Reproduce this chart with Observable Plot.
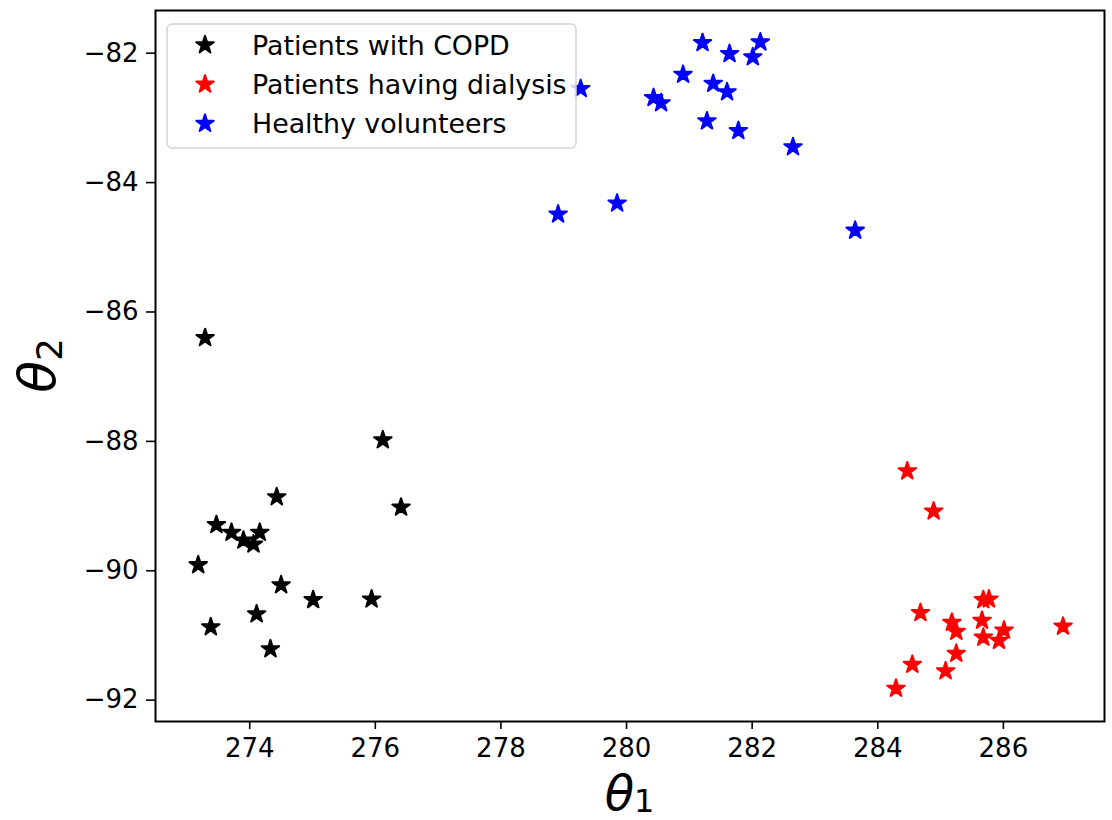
<!DOCTYPE html>
<html><head><meta charset="utf-8">
<script src="https://cdn.jsdelivr.net/npm/d3@7"></script>
<script src="https://cdn.jsdelivr.net/npm/@observablehq/plot@0.6"></script>
<style>body{margin:0;background:#fff} #chart{width:1112px;height:820px}</style>
</head><body><div id="chart"></div>
<script>
const groups = ["Patients with COPD", "Patients having dialysis", "Healthy volunteers"];
const colors = ["#000000", "#ff0000", "#0000ff"];

const copdTheta1 = [273.29, 276.12, 274.43, 276.41, 273.47, 273.71, 274.16, 273.90, 274.06, 273.18, 274.50, 275.01, 275.94, 274.11, 273.38, 274.33];
const copdTheta2 = [-86.40, -87.98, -88.86, -89.02, -89.29, -89.41, -89.41, -89.53, -89.59, -89.91, -90.22, -90.45, -90.44, -90.67, -90.87, -91.21];

const dialysisTheta1 = [284.47, 284.89, 284.68, 285.68, 285.77, 285.18, 285.25, 285.66, 285.68, 286.01, 285.93, 286.95, 285.25, 284.55, 285.08, 284.29];
const dialysisTheta2 = [-88.46, -89.08, -90.65, -90.45, -90.44, -90.80, -90.94, -90.77, -91.03, -90.92, -91.08, -90.86, -91.28, -91.45, -91.55, -91.82];

const healthyTheta1 = [279.27, 281.21, 281.64, 282.13, 282.01, 280.90, 281.38, 281.60, 280.43, 280.55, 281.28, 281.78, 282.65, 278.91, 279.85, 283.64];
const healthyTheta2 = [-82.55, -81.84, -82.01, -81.83, -82.06, -82.33, -82.47, -82.60, -82.69, -82.77, -83.05, -83.20, -83.45, -84.49, -84.32, -84.74];

const xTicks = [274, 276, 278, 280, 282, 284, 286];
const yTicks = [-92, -90, -88, -86, -84, -82];
const xLabel = ["θ", "1"];
const yLabel = ["θ", "2"];

const series = [
  [groups[0], copdTheta1, copdTheta2],
  [groups[1], dialysisTheta1, dialysisTheta2],
  [groups[2], healthyTheta1, healthyTheta2]
];
const rows = series.flatMap(([g, xs, ys]) => xs.map((x, i) => ({group: g, t1: x, t2: ys[i]})));

const R = 5.5;
const SW = 2;
const plot = Plot.plot({
  width: 1112, height: 820,
  marginLeft: 155, marginRight: 8, marginTop: 10, marginBottom: 99,
  style: {fontFamily: "'DejaVu Sans', sans-serif", fontSize: "26px", color: "#000", background: "#fff", overflow: "visible"},
  x: {domain: [272.50, 287.61]},
  y: {domain: [-92.33, -81.34]},
  color: {domain: groups, range: colors},
  marks: [
    Plot.dot(rows, {x: "t1", y: "t2", symbol: "star", fill: "group", stroke: "group", r: R, strokeWidth: SW, strokeLinejoin: "round"}),
    Plot.frame({stroke: "#000", strokeWidth: 2}),
    Plot.axisX({ticks: xTicks, tickFormat: d3.format("d"), tickSize: 8, tickPadding: 9, strokeWidth: 1.6, label: null}),
    Plot.axisY({ticks: yTicks, tickFormat: d3.format("d"), tickSize: 9, tickPadding: 8, strokeWidth: 1.6, label: null})
  ]
});
document.getElementById("chart").appendChild(plot);

const svg = d3.select(plot);
// legend
const lg = svg.append("g").attr("font-family", "'DejaVu Sans', sans-serif").attr("font-size", 26.8).attr("text-anchor", "start");
lg.append("rect").attr("x", 167).attr("y", 24).attr("width", 409).attr("height", 124).attr("rx", 5)
  .attr("fill", "white").attr("fill-opacity", 0.8).attr("stroke", "#d4d4d4").attr("stroke-width", 1.5);
const starPath = d3.symbol(d3.symbolStar, Math.PI * R * R)();
groups.forEach((g, i) => {
  lg.append("path").attr("d", starPath).attr("transform", `translate(205,${45 + i * 39.3})`)
    .attr("fill", colors[i]).attr("stroke", colors[i]).attr("stroke-width", SW).attr("stroke-linejoin", "round");
  lg.append("text").attr("x", 252).attr("y", 55 + i * 39).attr("text-anchor", "start").text(g);
});
// axis labels
const xl = svg.append("text").attr("x", 629.5).attr("y", 810).attr("text-anchor", "middle")
  .attr("font-family", "'DejaVu Sans', sans-serif").attr("font-size", 48);
xl.append("tspan").attr("font-style", "italic").text(xLabel[0]);
xl.append("tspan").attr("font-size", 32).attr("dy", 2).text(xLabel[1]);
const yl = svg.append("text").attr("transform", "translate(55,365.5) rotate(-90)").attr("text-anchor", "middle")
  .attr("font-family", "'DejaVu Sans', sans-serif").attr("font-size", 52);
yl.append("tspan").attr("font-style", "italic").text(yLabel[0]);
yl.append("tspan").attr("font-size", 36).attr("dy", 7).text(yLabel[1]);
</script>
</body></html>
